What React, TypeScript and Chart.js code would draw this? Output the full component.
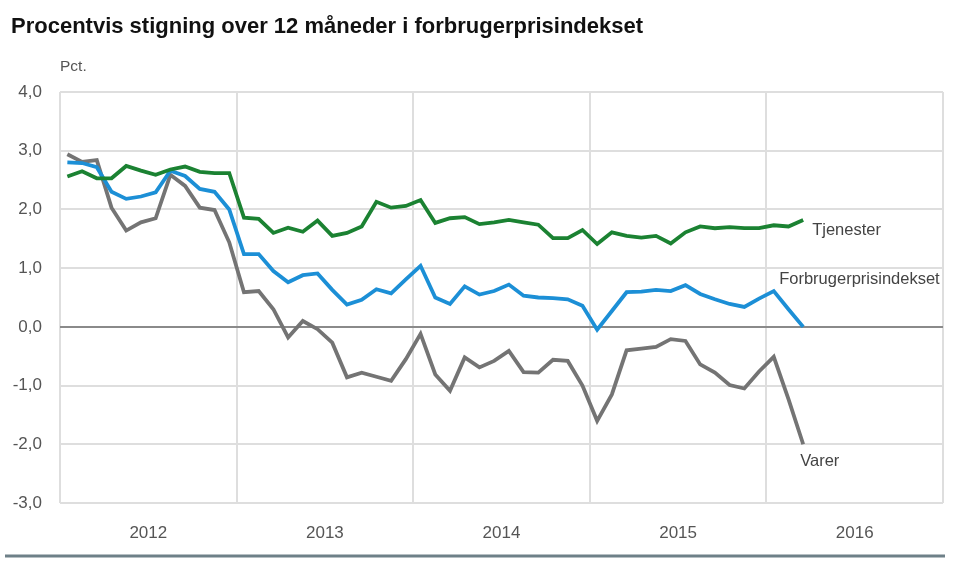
import React, { useEffect, useRef } from "react";
import { Chart, registerables } from "chart.js";

Chart.register(...registerables);

const title = "Procentvis stigning over 12 måneder i forbrugerprisindekset";
const unitLabel = "Pct.";
const years = ["2012", "2013", "2014", "2015", "2016"];
const seriesNames = ["Tjenester", "Forbrugerprisindekset", "Varer"];

// Monthly values, Jan 2012 – Mar 2016
const tjenester = [
  2.56, 2.65, 2.53, 2.53, 2.74, 2.66, 2.59, 2.68, 2.73, 2.64, 2.62, 2.62,
  1.86, 1.84, 1.6, 1.69, 1.62, 1.81, 1.55, 1.6, 1.71, 2.13, 2.03, 2.06,
  2.16, 1.77, 1.85, 1.87, 1.75, 1.78, 1.82, 1.78, 1.74, 1.51, 1.51, 1.65,
  1.41, 1.61, 1.55, 1.52, 1.55, 1.42, 1.61, 1.71, 1.68, 1.7, 1.68, 1.68,
  1.73, 1.71, 1.82,
];
const forbrugerprisindekset = [
  2.8, 2.79, 2.72, 2.3, 2.18, 2.22, 2.29, 2.66, 2.57, 2.35, 2.3, 2.0,
  1.24, 1.24, 0.95, 0.76, 0.88, 0.91, 0.63, 0.38, 0.46, 0.64, 0.57, 0.81,
  1.04, 0.5, 0.39, 0.69, 0.55, 0.61, 0.72, 0.53, 0.5, 0.49, 0.47, 0.36,
  -0.05, 0.27, 0.59, 0.6, 0.63, 0.61, 0.71, 0.56, 0.47, 0.39, 0.34, 0.48,
  0.61, 0.3, 0.0,
];
const varer = [
  2.94, 2.81, 2.84, 2.03, 1.64, 1.78, 1.85, 2.59, 2.4, 2.03, 1.99, 1.44,
  0.59, 0.61, 0.3, -0.18, 0.1, -0.04, -0.27, -0.86, -0.78, -0.85, -0.92, -0.55,
  -0.12, -0.81, -1.09, -0.52, -0.69, -0.58, -0.41, -0.77, -0.78, -0.56, -0.58, -1.0,
  -1.6, -1.15, -0.4, -0.37, -0.34, -0.21, -0.24, -0.64, -0.78, -0.99, -1.05, -0.76,
  -0.51, -1.23, -2.0,
];
const yMin = -3;
const yMax = 4;

const colors = ["#1b8232", "#1c8fd6", "#747474"];
const FONT = "'Liberation Sans', Arial, sans-serif";

export default function App() {
  const ref = useRef<HTMLCanvasElement>(null);

  useEffect(() => {
    document.body.style.margin = "0";
    const canvas = ref.current;
    if (!canvas) return;
    const toPts = (arr: number[]) => arr.map((v, i) => ({ x: i + 0.5, y: v }));
    const labelOffsets = [
      [9, 10],
      [-24, -47],
      [-3, 17],
    ];

    const overlay = {
      id: "overlay",
      afterDraw(chart: any) {
        const ctx = chart.ctx;
        ctx.save();
        ctx.textBaseline = "middle";
        ctx.textAlign = "left";
        ctx.fillStyle = "#111";
        ctx.font = `bold 22px ${FONT}`;
        ctx.fillText(title, 11, 27);
        ctx.fillStyle = "#555";
        ctx.font = `15.5px ${FONT}`;
        ctx.fillText(unitLabel, 60, 67);
        ctx.font = `16.5px ${FONT}`;
        ctx.fillStyle = "#444";
        seriesNames.forEach((name, d) => {
          const meta = chart.getDatasetMeta(d);
          const pt = meta.data[meta.data.length - 1];
          ctx.fillText(name, pt.x + labelOffsets[d][0], pt.y + labelOffsets[d][1]);
        });
        ctx.strokeStyle = "#6e8088";
        ctx.lineWidth = 3;
        ctx.beginPath();
        ctx.moveTo(5, 556);
        ctx.lineTo(945, 556);
        ctx.stroke();
        ctx.restore();
      },
    };

    const chart = new Chart(canvas, {
      type: "line",
      data: {
        datasets: [tjenester, forbrugerprisindekset, varer].map((arr, d) => ({
          label: seriesNames[d],
          data: toPts(arr),
          borderColor: colors[d],
          backgroundColor: colors[d],
          borderWidth: 3.8,
          pointRadius: 0,
          tension: 0,
          fill: false,
        })),
      },
      options: {
        animation: false,
        responsive: true,
        maintainAspectRatio: false,
        layout: { padding: { left: 0, right: 17, top: 92, bottom: 0 } },
        plugins: { legend: { display: false }, tooltip: { enabled: false } },
        scales: {
          x: {
            type: "linear",
            min: 0,
            max: years.length * 12,
            afterBuildTicks: (scale: any) => {
              const t = [];
              for (let v = 0; v <= years.length * 12; v += 6) t.push({ value: v });
              scale.ticks = t;
            },
            afterFit: (scale: any) => {
              scale.height = 69;
              scale.paddingLeft = 0;
              scale.paddingRight = 0;
            },
            grid: {
              color: (c: any) => (c.tick && c.tick.value % 12 === 0 ? "#dedede" : "rgba(0,0,0,0)"),
              lineWidth: 2,
              drawTicks: false,
              tickLength: 0,
            },
            border: { display: false },
            ticks: {
              autoSkip: false,
              maxRotation: 0,
              padding: 20,
              color: "#555",
              font: { family: FONT, size: 17 },
              callback: (v: any) => (v % 12 === 6 ? years[(v - 6) / 12] : ""),
            },
          },
          y: {
            min: yMin,
            max: yMax,
            afterFit: (scale: any) => {
              scale.width = 60;
            },
            grid: {
              color: (c: any) => (c.tick && c.tick.value === 0 ? "#8a8a8a" : "#dedede"),
              lineWidth: 2,
              drawTicks: false,
              tickLength: 0,
            },
            border: { display: false },
            ticks: {
              stepSize: 1,
              padding: 18,
              color: "#555",
              font: { family: FONT, size: 17 },
              callback: (v: any) => Number(v).toFixed(1).replace(".", ","),
            },
          },
        },
      },
      plugins: [overlay],
    });
    return () => chart.destroy();
  }, []);

  return (
    <div style={{ position: "relative", width: 960, height: 572 }}>
      <canvas ref={ref} />
    </div>
  );
}
